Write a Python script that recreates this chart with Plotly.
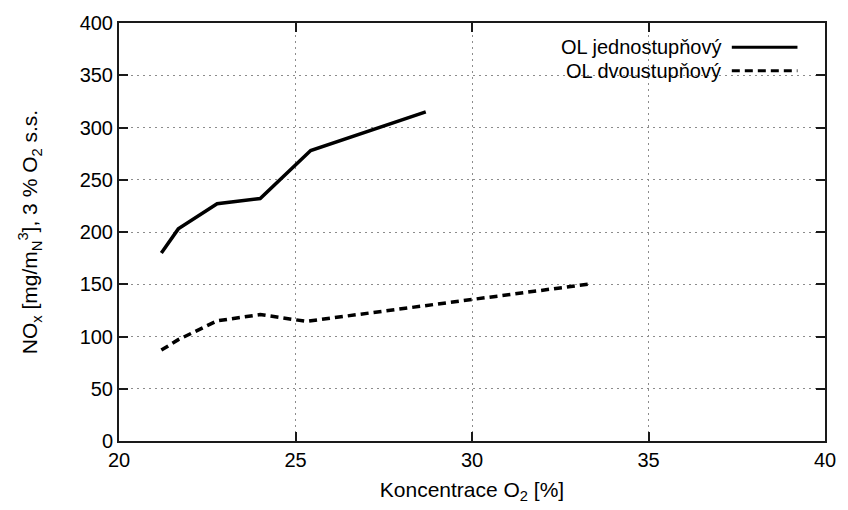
import plotly.graph_objects as go

# Data
x_single = [21.2, 21.68, 22.78, 24.0, 25.43, 28.69]
y_single = [180, 203, 227, 232, 278, 315]

x_double = [21.2, 21.68, 22.78, 24.0, 25.3, 33.28]
y_double = [87, 97, 115, 121, 114.5, 150]

name_single = "OL jednostupňový"
name_double = "OL dvoustupňový"

x_ticks = [20, 25, 30, 35, 40]
y_ticks = [0, 50, 100, 150, 200, 250, 300, 350, 400]

FONT = "Liberation Sans, Arial, sans-serif"

fig = go.Figure()
fig.add_trace(go.Scatter(x=x_single, y=y_single, mode="lines", name=name_single,
                         line=dict(color="black", width=3.5), showlegend=False))
fig.add_trace(go.Scatter(x=x_double, y=y_double, mode="lines", name=name_double,
                         line=dict(color="black", width=3.5, dash="8px,5px"), showlegend=False))

axis_common = dict(
    showline=True, linecolor="#1a1a1a", linewidth=2, mirror="ticks",
    ticks="inside", ticklen=9, tickwidth=2, tickcolor="#1a1a1a",
    showgrid=True, gridcolor="#8c8c8c", griddash="2px,4px", gridwidth=1,
    zeroline=False, tickfont=dict(family=FONT, size=20, color="black"),
)

fig.update_xaxes(range=[20, 40], tickvals=x_ticks, ticktext=[str(v) for v in x_ticks],
                 title=dict(text="Koncentrace O<sub>2</sub> [%]", font=dict(family=FONT, size=21, color="black"),
                            standoff=12),
                 **axis_common)
fig.update_yaxes(range=[0, 400], tickvals=y_ticks, ticktext=[str(v) for v in y_ticks],
                 title=dict(text="NO<sub>x</sub> [mg/m<sub>N</sub><sup>3</sup>], 3 % O<sub>2</sub> s.s.",
                            font=dict(family=FONT, size=21, color="black"), standoff=36),
                 **axis_common)

# White legend background hiding the grid (gnuplot key box without border)
fig.add_shape(type="rect", xref="paper", yref="paper", x0=0.534, x1=1.0, y0=0.85, y1=1.0,
              fillcolor="white", line=dict(width=0), layer="between")

# Custom legend (text right-aligned, sample line on the right, gnuplot style)
legend_rows = [(name_single, "solid", 0.942), (name_double, "8px,5px", 0.886)]
for label, dash, yy in legend_rows:
    fig.add_annotation(xref="paper", yref="paper", x=0.856, y=yy, text=label, showarrow=False,
                       xanchor="right", yanchor="middle", font=dict(family=FONT, size=20, color="black"))
    fig.add_shape(type="line", xref="paper", yref="paper", x0=0.868, x1=0.961, y0=yy, y1=yy,
                  line=dict(color="black", width=3, dash=dash))

fig.update_layout(
    width=848, height=510,
    margin=dict(l=119, r=16, t=22, b=67),
    plot_bgcolor="white", paper_bgcolor="white",
    font=dict(family=FONT, color="black"),
)

fig.write_html("out.html")
